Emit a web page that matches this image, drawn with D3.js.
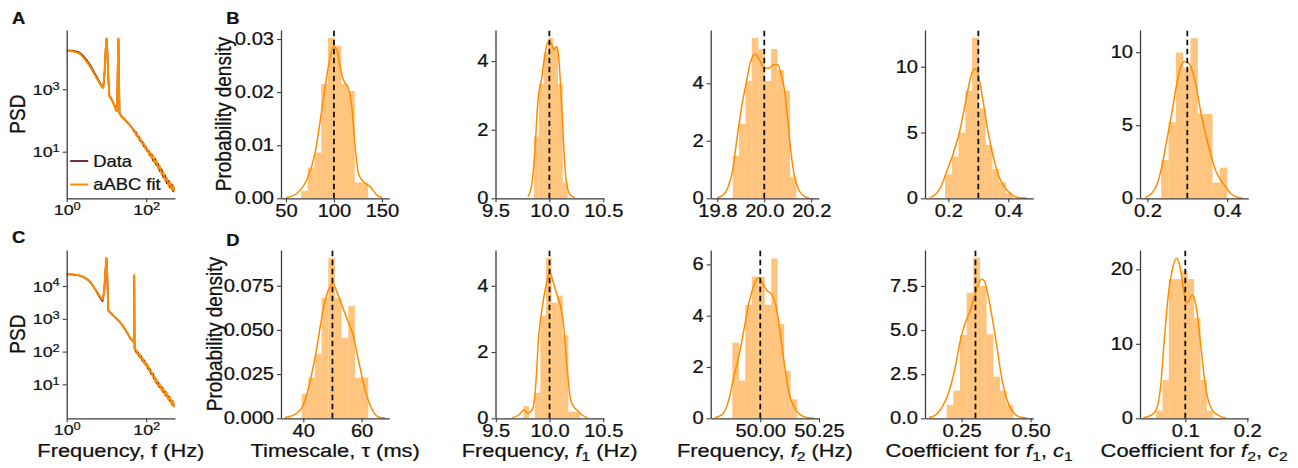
<!DOCTYPE html>
<html>
<head>
<meta charset="utf-8">
<script src="https://cdn.jsdelivr.net/npm/d3@7"></script>
<style>
  html, body { margin: 0; padding: 0; background: #fff; }
  svg { display: block; font-family: "Liberation Sans", Arial, Helvetica, sans-serif; }
  svg text { stroke: #111; stroke-width: 0.25px; }
</style>
</head>
<body>
<script>
// ===================== PSD data (panels A and C) =====================
const freqA = [1, 1.5, 2, 2.5, 3.2, 4, 5.1, 6.3, 7.6, 8.3, 9, 9.5, 10, 10.5, 11.1, 11.8, 13, 14.8, 16, 17.3,
  18.5, 19.2, 20, 20.6, 21.3, 23, 26, 29, 35, 40, 45, 50, 55, 60, 66, 72, 80, 88, 96, 105,
  115, 125, 138, 150, 165, 180, 200, 220, 245, 270, 300, 330, 365, 400, 440, 480, 500];
const psdDataA = [17800, 17000, 15500, 12300, 8510, 5620, 3160, 1950, 1260, 1150, 3550, 15800, 41700, 17800, 2510, 631, 525, 372, 295, 219,
  204, 3980, 41700, 2510, 170, 145, 123, 107, 81.3, 67.6, 56.2, 43.7, 41.7, 30.9, 29.5, 21.4, 20.9, 14.8, 14.8, 10.7,
  10.7, 7.59, 8.13, 5.13, 6.03, 3.72, 4.07, 2.40, 2.69, 1.51, 1.74, 0.977, 1.17, 0.708, 0.891, 0.537, 0.724];
const psdFitA = [17400, 16200, 14500, 11200, 7590, 5010, 2880, 1820, 1200, 1100, 3550, 15800, 42700, 17800, 2510, 603, 501, 363, 288, 209,
  200, 3980, 42700, 2510, 166, 138, 120, 105, 79.4, 66.1, 55.0, 50.1, 34.7, 36.3, 24.5, 25.7, 17.4, 17.8, 12.3, 12.9,
  8.71, 9.33, 6.03, 7.24, 4.27, 5.25, 2.88, 3.39, 1.86, 2.19, 1.20, 1.41, 0.794, 1.02, 0.603, 0.813, 0.550];

const freqC = [1, 1.5, 2, 2.6, 3.3, 4, 4.7, 5.7, 6.9, 8, 8.8, 9.4, 10, 10.5, 11.1, 12, 14, 17, 21.8, 26,
  31, 35, 39, 44, 47, 49, 50, 51, 53, 57, 62, 68, 74, 81, 89, 97, 102, 112, 122, 134,
  146, 160, 172, 182, 200, 220, 245, 270, 300, 325, 360, 400, 440, 470, 500];
const psdDataC = [22900, 22400, 21400, 19100, 16200, 12900, 9770, 6610, 4370, 3470, 7080, 28200, 69200, 20000, 1860, 1620, 1350, 1070, 794, 617,
  427, 339, 263, 224, 200, 191, 20000, 126, 115, 93.3, 95.5, 69.2, 72.4, 51.3, 53.7, 38.9, 42.7, 29.5, 30.2, 20.4,
  21.4, 14.5, 15.1, 10.7, 11.5, 8.13, 8.32, 5.75, 6.03, 4.37, 4.37, 3.09, 3.16, 2.29, 2.63];
const psdFitC = [22900, 22400, 21400, 19100, 15800, 12600, 9550, 6920, 4790, 3800, 7080, 28200, 72400, 20000, 1860, 1660, 1380, 1070, 813, 603,
  417, 331, 263, 224, 200, 191, 21900, 126, 112, 110, 79.4, 83.2, 60.3, 63.1, 43.7, 46.8, 34.7, 36.3, 24.0, 25.1,
  17.0, 17.8, 11.7, 13.8, 8.91, 10.2, 6.46, 7.41, 4.57, 5.62, 3.39, 4.07, 2.40, 3.09, 2.00];

const psdFreqTicks = [1, 100];
const psdTicksA = [10, 1000];
const psdTicksC = [10, 100, 1000, 10000];

// ===================== posterior histograms, top row =====================
const tauEdgesB = [65.7, 72.7, 79.7, 86.7, 93.7, 100.7, 107.7, 114.7, 121.7, 128.7, 135.7];
const tauDensB = [0.0014, 0.0058, 0.0086, 0.0215, 0.0302, 0.0287, 0.0215, 0.0202, 0.0030, 0.0030];
const tauKdeXB = [50.0, 61.1, 71.6, 80.3, 87.3, 94.2, 99.4, 103.0, 106.4, 109.9, 115.1, 118.6, 122.1, 125.5, 130.8, 137.8, 144.8, 150.0];
const tauKdeYB = [0.0001, 0.0009, 0.0035, 0.0085, 0.0166, 0.0248, 0.0286, 0.0279, 0.0248, 0.0223, 0.0207, 0.0173, 0.0097, 0.0047, 0.0031, 0.0022, 0.0006, 0.0001];

const f1EdgesB = [9.857, 9.902, 9.946, 9.991, 10.035, 10.080, 10.124, 10.169];
const f1DensB = [1.80, 3.33, 4.25, 4.68, 4.42, 3.33, 0.46];
const f1KdeXB = [9.801, 9.833, 9.864, 9.894, 9.926, 9.957, 9.988, 10.019, 10.041, 10.066, 10.081, 10.103, 10.127, 10.152, 10.19, 10.236];
const f1KdeYB = [0.05, 0.34, 1.31, 2.86, 3.45, 4.13, 4.56, 4.51, 4.32, 4.42, 4.27, 3.35, 1.89, 0.63, 0.10, 0.02];

const f2EdgesB = [19.866, 19.893, 19.920, 19.947, 19.975, 20.002, 20.029, 20.056, 20.083, 20.110, 20.137];
const f2DensB = [1.48, 2.59, 4.08, 5.57, 5.19, 4.08, 5.19, 4.46, 3.74, 0.75];
const f2KdeXB = [19.80, 19.826, 19.847, 19.866, 19.883, 19.904, 19.923, 19.94, 19.961, 19.98, 20.0, 20.019, 20.04, 20.057, 20.071, 20.086, 20.10, 20.114, 20.129, 20.147, 20.169, 20.19];
const f2KdeYB = [0.02, 0.12, 0.41, 0.99, 2.03, 3.19, 4.0, 4.70, 5.01, 4.81, 4.52, 4.52, 4.64, 4.64, 4.35, 3.77, 2.72, 1.57, 0.75, 0.29, 0.08, 0.01];

const c1EdgesB = [0.1889, 0.2115, 0.2340, 0.2566, 0.2791, 0.3017, 0.3243, 0.3468, 0.3694, 0.3919, 0.4145];
const c1DensB = [1.82, 3.16, 4.99, 8.18, 12.2, 6.84, 4.05, 2.23, 1.22, 0.43];
const c1KdeXB = [0.1389, 0.1611, 0.1778, 0.1944, 0.2167, 0.2389, 0.2589, 0.2722, 0.2856, 0.2944, 0.3056, 0.3189, 0.3333, 0.35, 0.3667, 0.3833, 0.4, 0.4167, 0.4389, 0.4611];
const c1KdeYB = [0.05, 0.38, 1.01, 2.03, 3.42, 5.19, 7.47, 8.99, 9.82, 9.75, 8.73, 6.96, 4.94, 3.16, 1.77, 1.01, 0.51, 0.18, 0.05, 0.03];

const c2EdgesB = [0.2345, 0.2529, 0.2713, 0.2897, 0.3081, 0.3265, 0.3449, 0.3633, 0.3817, 0.4001];
const c2DensB = [2.63, 5.21, 9.98, 8.90, 10.96, 5.78, 5.78, 1.07, 2.10];
const c2KdeXB = [0.1941, 0.2109, 0.2235, 0.2361, 0.2487, 0.2613, 0.2723, 0.2824, 0.2933, 0.3034, 0.3118, 0.3227, 0.3328, 0.3454, 0.358, 0.3706, 0.3832, 0.3958, 0.4084, 0.4252, 0.4378];
const c2KdeYB = [0.05, 0.34, 0.91, 2.17, 3.99, 5.82, 7.65, 8.90, 9.36, 9.25, 8.79, 7.65, 6.05, 4.45, 3.08, 1.94, 1.26, 0.80, 0.34, 0.07, 0.02];

// ===================== posterior histograms, bottom row =====================
const tauEdgesD = [39.43, 41.72, 44.00, 46.29, 48.57, 50.86, 53.15, 55.43, 57.72, 60.00, 62.29];
const tauDensD = [0.0138, 0.0230, 0.0364, 0.0682, 0.0908, 0.0682, 0.0456, 0.0635, 0.0230, 0.0230];
const tauKdeXD = [33.7, 37.7, 40.0, 42.3, 44.6, 46.9, 48.6, 50.1, 51.5, 53.2, 55.4, 57.1, 58.3, 60.0, 61.7, 64.0, 66.3, 68.0];
const tauKdeYD = [0.0004, 0.0028, 0.0075, 0.0207, 0.0396, 0.0622, 0.0725, 0.0763, 0.0716, 0.0641, 0.0546, 0.0471, 0.0377, 0.0245, 0.0132, 0.0038, 0.0004, 0.0001];

const f1EdgesD = [9.757, 9.809, 9.862, 9.914, 9.966, 10.019, 10.071, 10.123, 10.175, 10.228, 10.280];
const f1DensD = [0.37, 0, 0.77, 3.10, 4.84, 3.49, 3.70, 2.51, 0.20, 0.20];
const f1KdeXD = [9.652, 9.714, 9.760, 9.797, 9.838, 9.869, 9.900, 9.931, 9.971, 10.001, 10.033, 10.070, 10.107, 10.131, 10.156, 10.194, 10.224, 10.256, 10.302, 10.349];
const f1KdeYD = [0.02, 0.10, 0.25, 0.15, 0.25, 0.90, 2.51, 3.32, 4.07, 4.42, 4.12, 3.72, 3.32, 2.81, 1.81, 0.60, 0.35, 0.25, 0.10, 0.02];

const f2EdgesD = [49.881, 49.909, 49.936, 49.964, 49.991, 50.019, 50.047, 50.074, 50.102, 50.129, 50.157];
const f2DensD = [2.95, 1.47, 4.42, 5.52, 5.52, 4.42, 6.23, 3.68, 1.86, 0.74];
const f2KdeXD = [49.807, 49.836, 49.864, 49.886, 49.907, 49.929, 49.95, 49.971, 49.993, 50.007, 50.026, 50.05, 50.069, 50.086, 50.103, 50.121, 50.143, 50.171, 50.2, 50.229];
const f2KdeYD = [0.03, 0.13, 0.65, 1.56, 2.34, 3.38, 4.42, 5.13, 5.48, 5.32, 5.0, 4.81, 4.29, 3.25, 2.08, 1.04, 0.45, 0.13, 0.03, 0.0];

const c1EdgesD = [0.1957, 0.2199, 0.2440, 0.2682, 0.2923, 0.3165, 0.3406, 0.3648, 0.3889, 0.4131, 0.4372];
const c1DensD = [0.76, 1.57, 4.72, 7.12, 9.11, 7.50, 4.76, 2.36, 1.57, 0.76];
const c1KdeXD = [0.1316, 0.1558, 0.18, 0.2041, 0.2283, 0.2464, 0.2645, 0.2802, 0.2947, 0.3092, 0.3225, 0.3334, 0.3454, 0.3611, 0.3768, 0.3913, 0.4058, 0.4215, 0.4396, 0.4638, 0.4879];
const c1KdeYD = [0.04, 0.19, 0.66, 1.51, 3.02, 4.50, 5.48, 6.05, 6.80, 7.56, 7.90, 7.75, 7.0, 5.67, 4.16, 2.65, 1.51, 0.76, 0.28, 0.06, 0.0];

const c2EdgesD = [0.0530, 0.0632, 0.0734, 0.0836, 0.0938, 0.1041, 0.1143, 0.1245, 0.1347, 0.1449];
const c2DensD = [1.03, 5.15, 18.7, 18.7, 19.8, 18.7, 13.5, 5.15, 1.0];
const c2KdeXD = [0.0324, 0.0459, 0.0541, 0.0605, 0.0659, 0.073, 0.0784, 0.0854, 0.0908, 0.0962, 0.1016, 0.1059, 0.1108, 0.1146, 0.1189, 0.1243, 0.1308, 0.1362, 0.1432, 0.1541, 0.1649];
const c2KdeYD = [0.09, 0.45, 1.34, 4.47, 10.29, 16.8, 19.7, 21.5, 20.6, 17.9, 15.5, 15.8, 16.6, 16.1, 14.3, 10.3, 5.4, 2.7, 1.12, 0.36, 0.04];

// ground-truth parameter values (dashed lines)
const truthB = [100, 10, 20, 0.3, 0.3];
const truthD = [50, 10, 50, 0.3, 0.1];

// tick values
const xTicksB = [[50, 100, 150], [9.5, 10.0, 10.5], [19.8, 20.0, 20.2], [0.2, 0.4], [0.2, 0.4]];
const yTicksB = [[0, 0.01, 0.02, 0.03], [0, 2, 4], [0, 2, 4], [0, 5, 10], [0, 5, 10]];
const xTicksD = [[40, 60], [9.5, 10.0, 10.5], [50.0, 50.25], [0.25, 0.5], [0.1, 0.2]];
const yTicksD = [[0, 0.025, 0.05, 0.075], [0, 2, 4], [0, 2, 4, 6], [0, 2.5, 5, 7.5], [0, 10, 20]];

// ===================== drawing =====================
const SX = 1.15;             // horizontal glyph stretch of the figure's lettering
const AXIS = "#3d3d3d";
const INK = "#111";
const ORANGE = "#ff8c00";
const DATA_RED = "#5e0b17";
const TICK_FS = 17.5, PSD_TICK_FS = 15.5, LABEL_FS = 19;

const colX = [66.7, 281, 495.5, 710.7, 925, 1140];
const rowTop = [30, 250];
const PW = 108.3, PH = 168.3;

const svg = d3.select("body").append("svg").attr("width", 1298).attr("height", 468);

// text with optional italic / subscript runs
function addText(parent, x, y, parts, o) {
  const fs = o.size;
  const t = parent.append("text")
    .attr("transform", `translate(${x},${y}) scale(${SX},1)` + (o.rotate ? " rotate(-90)" : ""))
    .attr("text-anchor", o.anchor || "middle")
    .attr("font-size", fs)
    .attr("fill", INK);
  if (o.weight) t.attr("font-weight", o.weight);
  let shift = 0;
  parts.forEach(p => {
    const s = t.append("tspan").text(p.t);
    let target = 0;
    if (p.sub) { target = fs * 0.22; s.attr("font-size", fs * 0.72); }
    if (p.it) s.attr("font-style", "italic");
    if (target !== shift) { s.attr("dy", target - shift); shift = target; }
  });
  return t;
}

function styleAxis(sel, orient, fs) {
  sel.attr("font-size", null).attr("font-family", null);
  sel.select(".domain").attr("stroke", AXIS).attr("stroke-width", 1.3);
  sel.selectAll(".tick line").attr("stroke", AXIS).attr("stroke-width", 1.1);
  const txt = sel.selectAll(".tick text").attr("fill", INK).attr("font-size", fs);
  if (orient === "left") {
    txt.each(function () {
      const t = d3.select(this);
      t.attr("x", (+t.attr("x")) / SX).attr("transform", `scale(${SX},1)`);
    });
  } else {
    txt.attr("transform", `scale(${SX},1)`);
  }
}

function powerLabels(sel) {
  sel.selectAll(".tick text").each(function (d) {
    const t = d3.select(this);
    t.text(null);
    t.append("tspan").text("10");
    t.append("tspan").attr("dy", "-0.45em").attr("font-size", "72%").text(Math.round(Math.log10(d)));
  });
}

function psdPanel(row, freq, data, fit, yDomain, yTicks, legend) {
  const g = svg.append("g").attr("transform", `translate(${colX[0]},${rowTop[row]})`);
  const x = d3.scaleLog().domain([1, 530]).range([0, PW]);
  const y = d3.scaleLog().domain(yDomain).range([PH, 0]);
  const line = d3.line().x(d => x(d[0])).y(d => y(d[1]));

  g.append("path").datum(d3.zip(freq, data)).attr("d", line)
    .attr("fill", "none").attr("stroke", DATA_RED).attr("stroke-width", 1.7).attr("stroke-linejoin", "round");
  g.append("path").datum(d3.zip(freq, fit)).attr("d", line)
    .attr("fill", "none").attr("stroke", ORANGE).attr("stroke-width", 2).attr("stroke-linejoin", "round");

  const ax = g.append("g").attr("transform", `translate(0,${PH})`)
    .call(d3.axisBottom(x).tickValues(psdFreqTicks).tickFormat(() => "").tickSize(4).tickPadding(2).tickSizeOuter(0));
  powerLabels(ax);
  styleAxis(ax, "bottom", PSD_TICK_FS);

  const ay = g.append("g")
    .call(d3.axisLeft(y).tickValues(yTicks).tickFormat(() => "").tickSize(4).tickPadding(3).tickSizeOuter(0));
  powerLabels(ay);
  styleAxis(ay, "left", PSD_TICK_FS);

  addText(svg, 25, rowTop[row] + PH / 2, [{ t: "PSD" }], { size: LABEL_FS, rotate: true });

  if (legend) {
    const items = [["Data", DATA_RED, 1.7], ["aABC fit", ORANGE, 2]];
    items.forEach((it, i) => {
      const ly = 131 + i * 23.5;
      g.append("line").attr("x1", 3.5).attr("x2", 21.5).attr("y1", ly).attr("y2", ly)
        .attr("stroke", it[1]).attr("stroke-width", it[2]);
      addText(g, 26.5, ly + 5.6, [{ t: it[0] }], { size: 16, anchor: "start" });
    });
  }
}

function histPanel(col, row, edges, dens, kx, ky, truth, xDomain, yDomain, xTicks, yTicks, xFmt, yFmt) {
  const g = svg.append("g").attr("transform", `translate(${colX[col]},${rowTop[row]})`);
  const x = d3.scaleLinear().domain(xDomain).range([0, PW]);
  const y = d3.scaleLinear().domain(yDomain).range([PH, 0]);

  g.append("g").selectAll("rect").data(dens).join("rect")
    .attr("x", (d, i) => x(edges[i]))
    .attr("width", (d, i) => x(edges[i + 1]) - x(edges[i]))
    .attr("y", d => y(d))
    .attr("height", d => y(0) - y(d))
    .attr("fill", ORANGE).attr("fill-opacity", 0.5);

  g.append("path").datum(d3.zip(kx, ky))
    .attr("d", d3.line().x(d => x(d[0])).y(d => y(d[1])).curve(d3.curveMonotoneX))
    .attr("fill", "none").attr("stroke", ORANGE).attr("stroke-width", 1.5);

  g.append("line").attr("x1", x(truth)).attr("x2", x(truth)).attr("y1", y(0)).attr("y2", 0)
    .attr("stroke", "#111").attr("stroke-width", 1.8).attr("stroke-dasharray", "5.5,3.5");

  const ax = g.append("g").attr("transform", `translate(0,${PH})`)
    .call(d3.axisBottom(x).tickValues(xTicks).tickFormat(d3.format(xFmt)).tickSize(4).tickPadding(2.5).tickSizeOuter(0));
  styleAxis(ax, "bottom", TICK_FS);
  const ay = g.append("g")
    .call(d3.axisLeft(y).tickValues(yTicks).tickFormat(d3.format(yFmt)).tickSize(4).tickPadding(3).tickSizeOuter(0));
  styleAxis(ay, "left", TICK_FS);
}

// ---- panel A / C : power spectra ----
psdPanel(0, freqA, psdDataA, psdFitA, [0.321, 79400], psdTicksA, true);
psdPanel(1, freqC, psdDataC, psdFitC, [0.918, 126000], psdTicksC, false);

// ---- panel B : posteriors for the first spectrum ----
histPanel(1, 0, tauEdgesB, tauDensB, tauKdeXB, tauKdeYB, truthB[0], [44.8, 157.7], [0, 0.0317], xTicksB[0], yTicksB[0], "d", ".2f");
histPanel(2, 0, f1EdgesB, f1DensB, f1KdeXB, f1KdeYB, truthB[1], [9.5, 10.505], [0, 4.905], xTicksB[1], yTicksB[1], ".1f", "d");
histPanel(3, 0, f2EdgesB, f2DensB, f2KdeXB, f2KdeYB, truthB[2], [19.772, 20.233], [0, 5.85], xTicksB[2], yTicksB[2], ".1f", "d");
histPanel(4, 0, c1EdgesB, c1DensB, c1KdeXB, c1KdeYB, truthB[3], [0.1222, 0.4833], [0, 12.79], xTicksB[3], yTicksB[3], ".1f", "d");
histPanel(5, 0, c2EdgesB, c2DensB, c2KdeXB, c2KdeYB, truthB[4], [0.1815, 0.4529], [0, 11.52], xTicksB[4], yTicksB[4], ".1f", "d");

// ---- panel D : posteriors for the second spectrum ----
histPanel(1, 1, tauEdgesD, tauDensD, tauKdeXD, tauKdeYD, truthD[0], [32.35, 69.5], [0, 0.0952], xTicksD[0], yTicksD[0], "d", ".3f");
histPanel(2, 1, f1EdgesD, f1DensD, f1KdeXD, f1KdeYD, truthD[1], [9.497, 10.505], [0, 5.08], xTicksD[1], yTicksD[1], ".1f", "d");
histPanel(3, 1, f2EdgesD, f2DensD, f2KdeXD, f2KdeYD, truthD[2], [49.789, 50.25], [0, 6.56], xTicksD[2], yTicksD[2], ".2f", "d");
histPanel(4, 1, c1EdgesD, c1DensD, c1KdeXD, c1KdeYD, truthD[3], [0.1171, 0.5097], [0, 9.54], xTicksD[3], yTicksD[3], ".2f", ".1f");
histPanel(5, 1, c2EdgesD, c2DensD, c2KdeXD, c2KdeYD, truthD[4], [0.027, 0.2016], [0, 22.6], xTicksD[4], yTicksD[4], ".1f", "d");

// ---- axis titles ----
addText(svg, 231, rowTop[0] + PH / 2, [{ t: "Probability density" }], { size: LABEL_FS, rotate: true });
addText(svg, 222, rowTop[1] + PH / 2, [{ t: "Probability density" }], { size: LABEL_FS, rotate: true });

const xTitles = [
  [{ t: "Frequency, f (Hz)" }],
  [{ t: "Timescale, τ (ms)" }],
  [{ t: "Frequency, " }, { t: "f", it: true }, { t: "1", sub: true }, { t: " (Hz)" }],
  [{ t: "Frequency, " }, { t: "f", it: true }, { t: "2", sub: true }, { t: " (Hz)" }],
  [{ t: "Coefficient for " }, { t: "f", it: true }, { t: "1", sub: true }, { t: ", " }, { t: "c", it: true }, { t: "1", sub: true }],
  [{ t: "Coefficient for " }, { t: "f", it: true }, { t: "2", sub: true }, { t: ", " }, { t: "c", it: true }, { t: "2", sub: true }]
];
xTitles.forEach((parts, i) => addText(svg, colX[i] + PW / 2, 457, parts, { size: LABEL_FS }));

// ---- panel letters ----
[["A", 12, 23.6], ["B", 226.3, 24.3], ["C", 12, 242.6], ["D", 226.3, 246]].forEach(l =>
  addText(svg, l[1], l[2], [{ t: l[0] }], { size: 16, weight: "bold", anchor: "start" }));
</script>
</body>
</html>
